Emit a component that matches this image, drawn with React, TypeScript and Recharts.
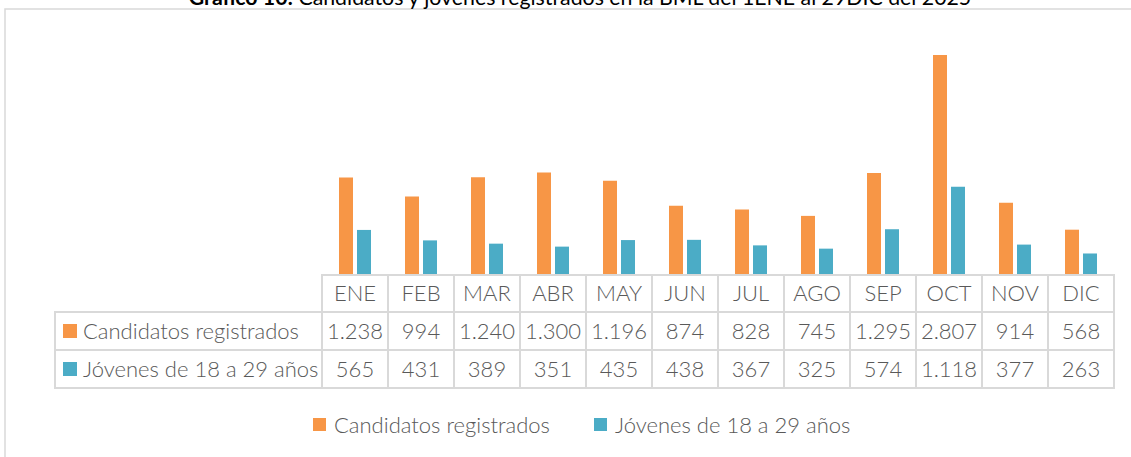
import { BarChart, Bar, XAxis, YAxis } from "recharts";

const meses = ["ENE", "FEB", "MAR", "ABR", "MAY", "JUN", "JUL", "AGO", "SEP", "OCT", "NOV", "DIC"];
const candidatos = [1238, 994, 1240, 1300, 1196, 874, 828, 745, 1295, 2807, 914, 568];
const jovenes = [565, 431, 389, 351, 435, 438, 367, 325, 574, 1118, 377, 263];
const nombres = ["Candidatos registrados", "Jóvenes de 18 a 29 años"];
const colores = ["#F79646", "#4BACC6"];

const data = meses.map((mes, i) => ({ mes, candidatos: candidatos[i], jovenes: jovenes[i] }));

const FONT = "Lato, sans-serif";
const TEXT = "#595959";
const LINE = "#D9D9D9";
const BAND = 66;
const ROWS = [275, 312, 350, 388];
const LABEL_LEFT = 55;
const FS = 22;

function fmt(n: number) {
  return String(n).replace(/\B(?=(\d{3})+(?!\d))/g, ".");
}

// each x-axis tick draws its own table column (month + both values)
function TableTick(props: any) {
  const { x, payload, index } = props;
  const i = index as number;
  const left = x - BAND / 2;
  const cells = [payload.value, fmt(candidatos[i]), fmt(jovenes[i])];
  return (
    <g>
      {index === 0 && (
        <g>
          {[1, 2].map((r) => (
            <g key={r}>
              <rect
                x={LABEL_LEFT}
                y={ROWS[r]}
                width={left - LABEL_LEFT}
                height={ROWS[r + 1] - ROWS[r]}
                fill="none"
                stroke={LINE}
                strokeWidth={2}
              />
              <rect x={63} y={(ROWS[r] + ROWS[r + 1]) / 2 - 7} width={14} height={14} fill={colores[r - 1]} />
              <text
                x={83}
                y={(ROWS[r] + ROWS[r + 1]) / 2 + 7.5}
                fill={TEXT}
                fontSize={FS}
                fontWeight={300}
                fontFamily={FONT}
              >
                {nombres[r - 1]}
              </text>
            </g>
          ))}
        </g>
      )}
      {cells.map((c, r) => (
        <g key={r}>
          <rect
            x={left}
            y={ROWS[r]}
            width={BAND}
            height={ROWS[r + 1] - ROWS[r]}
            fill="none"
            stroke={LINE}
            strokeWidth={2}
          />
          <text
            x={x}
            y={(ROWS[r] + ROWS[r + 1]) / 2 + 7.5}
            textAnchor="middle"
            fill={TEXT}
            fontSize={FS}
            fontWeight={300}
            fontFamily={FONT}
          >
            {c}
          </text>
        </g>
      ))}
    </g>
  );
}

export default function App() {
  return (
    <div
      style={{
        position: "absolute",
        left: 0,
        top: 0,
        width: 1131,
        height: 457,
        background: "#fff",
        overflow: "hidden",
        fontFamily: FONT,
      }}
    >
      <svg width={1131} height={457} style={{ position: "absolute", left: 0, top: 0 }}>
        <rect x={5} y={9} width={1140} height={470} fill="none" stroke={LINE} strokeWidth={1.5} />
        <text x={580} y={5} textAnchor="middle" fontSize={21.3} fontFamily={FONT} fill="#000">
          <tspan fontWeight="bold">Gráfico 10:</tspan> Candidatos y jóvenes registrados en la BML del 1ENE al 29DIC del 2025
        </text>
      </svg>
      <div style={{ position: "absolute", left: 0, top: 0 }}>
        <BarChart
          width={1131}
          height={457}
          data={data}
          margin={{ top: 40, right: 17, left: 322, bottom: 69 }}
          barSize={14}
          barGap={4}
        >
          <XAxis
            dataKey="mes"
            axisLine={false}
            tickLine={false}
            interval={0}
            height={114}
            tick={<TableTick />}
          />
          <YAxis hide domain={[0, 3000]} />
          <Bar dataKey="candidatos" name={nombres[0]} fill={colores[0]} isAnimationActive={false} />
          <Bar dataKey="jovenes" name={nombres[1]} fill={colores[1]} isAnimationActive={false} />
        </BarChart>
      </div>
      <div
        style={{
          position: "absolute",
          left: 313,
          top: 411,
          display: "flex",
          alignItems: "center",
          fontSize: FS,
          fontWeight: 300,
          color: TEXT,
          height: 26,
        }}
      >
        {nombres.map((n, i) => (
          <div key={n} style={{ display: "flex", alignItems: "center", marginRight: 44 }}>
            <span style={{ width: 13, height: 13, background: colores[i], display: "inline-block", marginRight: 8 }} />
            <span>{n}</span>
          </div>
        ))}
      </div>
    </div>
  );
}
